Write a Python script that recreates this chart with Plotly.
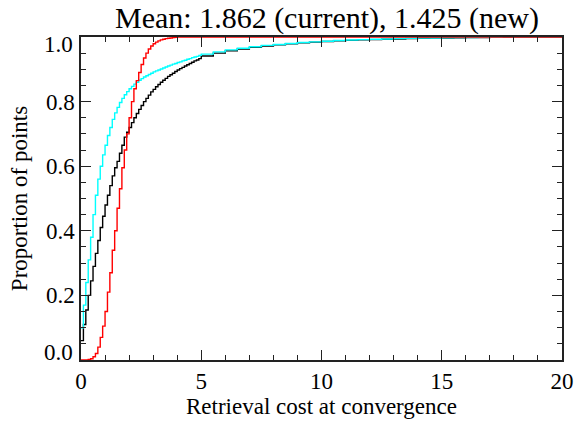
import numpy as np
import plotly.graph_objects as go

# Bin left edges: 0.1-wide bins up to 5, then 0.5-wide bins up to 20
fine_edges = np.round(np.arange(0.0, 5.0, 0.1), 1)
tail_edges = np.arange(5.0, 20.0, 0.5)
x_end = 20.0

# Cumulative proportion of points per bin
cdf_current_fine = [0.06, 0.11, 0.155, 0.20, 0.245, 0.29, 0.33, 0.37, 0.41, 0.445,
                    0.48, 0.51, 0.54, 0.57, 0.595, 0.615, 0.64, 0.665, 0.69, 0.705,
                    0.72, 0.735, 0.75, 0.763, 0.776, 0.788, 0.80, 0.81, 0.82, 0.83,
                    0.838, 0.846, 0.853, 0.86, 0.866, 0.872, 0.878, 0.883, 0.888, 0.893,
                    0.898, 0.902, 0.906, 0.91, 0.914, 0.918, 0.922, 0.926, 0.929, 0.933]
cdf_current_tail = [0.941, 0.950, 0.957, 0.963, 0.968, 0.972, 0.976, 0.979, 0.982, 0.984,
                    0.986, 0.988, 0.9895, 0.991, 0.992, 0.993, 0.994, 0.995, 0.996, 0.9965,
                    0.997, 0.9975, 0.998, 0.9985, 0.999, 0.9994, 0.9997, 0.9999, 1.0, 1.0]

cdf_new_fine = [0.10, 0.17, 0.24, 0.31, 0.38, 0.45, 0.51, 0.56, 0.60, 0.635,
                0.665, 0.695, 0.72, 0.745, 0.765, 0.782, 0.797, 0.81, 0.821, 0.831,
                0.84, 0.847, 0.854, 0.86, 0.866, 0.871, 0.876, 0.88, 0.884, 0.888,
                0.892, 0.895, 0.898, 0.901, 0.904, 0.907, 0.91, 0.913, 0.916, 0.918,
                0.921, 0.923, 0.926, 0.928, 0.931, 0.933, 0.936, 0.938, 0.94, 0.943]
cdf_new_tail = [0.947, 0.954, 0.96, 0.965, 0.97, 0.974, 0.977, 0.98, 0.983, 0.985,
                0.987, 0.989, 0.9905, 0.992, 0.993, 0.994, 0.995, 0.996, 0.9965, 0.997,
                0.9975, 0.998, 0.9985, 0.999, 0.9993, 0.9996, 0.9998, 1.0, 1.0, 1.0]

cdf_ref_fine = [0.0, 0.0, 0.0, 0.002, 0.004, 0.01, 0.02, 0.04, 0.07, 0.105,
                0.15, 0.21, 0.27, 0.34, 0.40, 0.47, 0.53, 0.595, 0.65, 0.70,
                0.75, 0.80, 0.84, 0.865, 0.89, 0.915, 0.935, 0.95, 0.963, 0.972,
                0.979, 0.984, 0.988, 0.991, 0.993, 0.995, 0.996, 0.997, 0.998, 0.999,
                1.0, 1.0, 1.0, 1.0, 1.0, 1.0, 1.0, 1.0, 1.0, 1.0]
cdf_ref_tail = [1.0] * 30

title_text = "Mean: 1.862 (current), 1.425 (new)"
x_title = "Retrieval cost at convergence"
y_title = "Proportion of points"
x_ticks = [0, 5, 10, 15, 20]
y_ticks = [0.0, 0.2, 0.4, 0.6, 0.8, 1.0]

FONT = "Liberation Serif"
TICK_SIZE = 23


def series(fine, tail):
    xs = list(fine_edges) + list(tail_edges) + [x_end]
    ys = list(fine) + list(tail) + [tail[-1]]
    return xs, ys


fig = go.Figure()
for fine, tail, color in [(cdf_current_fine, cdf_current_tail, "black"),
                          (cdf_new_fine, cdf_new_tail, "#00FFFF"),
                          (cdf_ref_fine, cdf_ref_tail, "#FF0000")]:
    xs, ys = series(fine, tail)
    fig.add_trace(go.Scatter(x=xs, y=ys, mode="lines",
                             line=dict(color=color, width=1.4, shape="hv"),
                             showlegend=False, hoverinfo="skip"))

axis_common = dict(showgrid=False, zeroline=False, showline=True, automargin=False,
                   linecolor="#222222", linewidth=1.5, mirror="ticks",
                   ticks="inside", tickcolor="#222222", tickwidth=1.2,
                   tickfont=dict(family=FONT, size=TICK_SIZE, color="black"))

# End labels of the y axis are nudged inwards (IDL style); they are drawn as annotations
y_ticktext = [f"{v:.1f}" if 0 < v < 1 else " " * 3 for v in y_ticks]

fig.update_xaxes(range=[0, 20], tickvals=x_ticks, ticktext=[str(v) for v in x_ticks],
                 ticklen=10,
                 minor=dict(dtick=1, ticklen=5, ticks="inside", tickcolor="#222222", tickwidth=1.2),
                 title=dict(text=x_title, font=dict(family=FONT, size=23, color="black"), standoff=4),
                 **axis_common)
fig.update_yaxes(range=[0, 1], tickvals=y_ticks, ticktext=y_ticktext,
                 ticklen=10,
                 minor=dict(dtick=0.05, ticklen=5, ticks="inside", tickcolor="#222222", tickwidth=1.2),
                 title=dict(text=y_title, font=dict(family=FONT, size=23, color="black"), standoff=12),
                 **axis_common)

for v in y_ticks:
    if v in (0.0, 1.0):
        fig.add_annotation(x=0, xref="paper", y=v, yref="y", text=f"{v:.1f}",
                           showarrow=False, xanchor="right", yanchor="middle",
                           xshift=-6, yshift=(-7 if v == 1.0 else 8),
                           font=dict(family=FONT, size=TICK_SIZE, color="black"))

fig.update_layout(
    width=576, height=421,
    margin=dict(l=81, r=14, t=37, b=61),
    paper_bgcolor="white", plot_bgcolor="white",
    font=dict(family=FONT, color="black"),
    title=dict(text=title_text, x=327 / 576, xref="container", xanchor="center",
               y=1 - 17 / 421, yanchor="middle",
               font=dict(family=FONT, size=30, color="black")),
)

fig.write_html("out.html")
